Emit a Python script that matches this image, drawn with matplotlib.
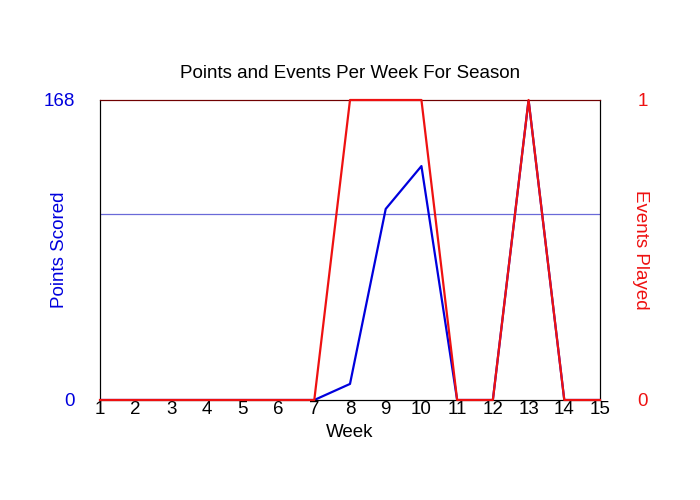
import matplotlib
matplotlib.use("Agg")
import matplotlib.pyplot as plt

plt.rcParams['font.family'] = ['Liberation Sans', 'DejaVu Sans']

# data
weeks = list(range(1, 16))
points = [0, 0, 0, 0, 0, 0, 0, 9, 107, 131, 0, 0, 168, 0, 0]
events = [0, 0, 0, 0, 0, 0, 0, 1, 1, 1, 0, 0, 1, 0, 0]
avg_points = 104
points_max = 168

fig = plt.figure(figsize=(7, 5), dpi=100)
ax = fig.add_axes([100 / 700, 0.2, 500 / 700, 0.6])
ax2 = ax.twinx()

ax.axhline(avg_points, color='#6a6ad8', lw=0.9)
ax.plot(weeks, points, color='#0000dd', lw=1.6, zorder=3)
ax2.plot(weeks, events, color='#ee1111', lw=1.6, clip_on=False, zorder=3)

ax.set_xlim(1, 15)
ax.set_ylim(0, points_max)
ax2.set_ylim(0, 1)
ax.set_xticks(weeks)
ax.set_yticks([0, points_max])
ax2.set_yticks([0, 1])

ax.tick_params(axis='x', length=0, pad=1, labelsize=13.5)
ax.tick_params(axis='y', length=0, pad=18, labelsize=13.5, colors='#0000dd')
ax2.tick_params(axis='y', length=0, pad=27, labelsize=13.5, colors='#ee1111')

for a in (ax, ax2):
    a.spines['top'].set_color('#700000')
    a.spines['left'].set_color('black')
    a.spines['right'].set_color('black')
    a.spines['bottom'].set_color('black')

ax.set_xlabel('Week', fontsize=13.5, labelpad=4)
ax.set_ylabel('Points Scored', fontsize=13.5, color='#0000dd', va='center')
ax.yaxis.set_label_coords(-0.082, 0.5)
ax2.set_ylabel('Events Played', fontsize=13.5, color='#ee1111', rotation=270,
               va='center')
ax2.yaxis.set_label_coords(1.08, 0.5)
ax.set_title('Points and Events Per Week For Season', fontsize=13.5, pad=16)

fig.savefig('out.png', dpi=100)
